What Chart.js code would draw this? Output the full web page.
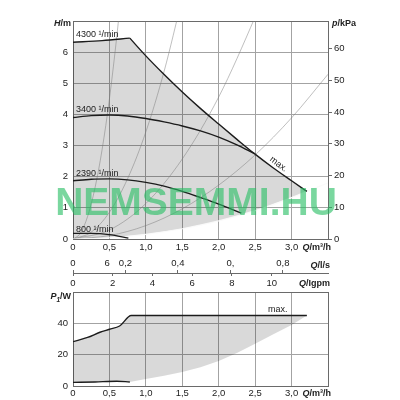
<!DOCTYPE html>
<html><head><meta charset="utf-8">
<script src="https://cdn.jsdelivr.net/npm/chart.js@4.4.1/dist/chart.umd.min.js"></script>
<style>
html,body{margin:0;padding:0;background:#fff;}
#wrap{position:relative;width:400px;height:400px;background:#fff;}
canvas{position:absolute;left:0;top:0;}
</style></head><body>
<div id="wrap"><canvas id="top" width="400" height="400"></canvas><canvas id="bot" width="400" height="400"></canvas></div>
<script>
// ---------------- data ----------------
const qTickValues = [0, 0.5, 1, 1.5, 2, 2.5, 3, 3.5];
const qTickLabels = ['0', '0,5', '1,0', '1,5', '2,0', '2,5', '3,0', ''];
const hTickValues = [0, 1, 2, 3, 4, 5, 6, 7];
const hTickLabels = ['0', '1', '2', '3', '4', '5', '6', ''];
const pTickValues = [0, 10, 20, 30, 40, 50, 60];
const pTickLabels = ['0', '10', '20', '30', '40', '50', '60'];
const powerTickValues = [0, 20, 40, 60];
const powerTickLabels = ['0', '20', '40', ''];
const lsTickValues = [0, 0.13, 0.2, 0.4, 0.6, 0.8];
const lsTickLabels = ['0', '6', '0,2', '0,4', '0,', '0,8'];
const gpmTickValues = [0, 2, 4, 6, 8, 10];
const gpmTickLabels = ['0', '2', '4', '6', '8', '10'];

// head curves (Q m3/h, H m)
const q4300 = [0, 0.4, 0.78];
const h4300 = [6.32, 6.37, 6.45];
const qMax = [0.78, 1.0, 1.23, 1.5, 1.74, 2.0, 2.25, 2.49, 2.75, 3.0, 3.21];
const hMax = [6.45, 5.88, 5.33, 4.72, 4.21, 3.69, 3.2, 2.74, 2.28, 1.87, 1.53];
const q3400 = [0, 0.25, 0.5, 0.75, 1.0, 1.25, 1.5, 1.75, 2.0, 2.25, 2.49];
const h3400 = [3.9, 3.96, 3.98, 3.95, 3.87, 3.76, 3.63, 3.47, 3.27, 3.02, 2.74];
const q2390 = [0, 0.25, 0.5, 0.75, 1.0, 1.25, 1.5, 1.75, 2.0, 2.31];
const h2390 = [1.87, 1.92, 1.93, 1.9, 1.82, 1.7, 1.53, 1.33, 1.12, 0.83];
const q800 = [0, 0.25, 0.5, 0.76];
const h800 = [0.18, 0.18, 0.14, 0.03];
// lower boundary of operating range (light line)
const qLow = [0, 0.5, 1.0, 1.5, 2.0, 2.5, 3.0, 3.21, 3.5];
const hLow = [0, 0.04, 0.15, 0.33, 0.58, 0.91, 1.33, 1.53, 1.8];
// thin system curves
const qSys1 = [0, 0.1, 0.2, 0.3, 0.4, 0.5, 0.6, 0.64];
const hSys1 = [0, 0.18, 0.72, 1.62, 2.88, 4.5, 6.48, 7.37];
const qSys2 = [0, 0.25, 0.5, 0.75, 1.0, 1.25, 1.5];
const hSys2 = [0, 0.22, 0.86, 1.94, 3.44, 5.38, 7.74];
const qSys3 = [0, 0.5, 1.0, 1.5, 2.0, 2.5, 2.6];
const hSys3 = [0, 0.29, 1.14, 2.57, 4.56, 7.13, 7.7];
const qSys4 = [0, 0.5, 1.0, 1.5, 2.0, 2.5, 3.0, 3.5];
const hSys4 = [0, 0.11, 0.43, 0.97, 1.73, 2.7, 3.89, 5.29];

// power curves (Q m3/h, P1 W)
const qPmax = [0, 0.2, 0.37, 0.5, 0.64, 0.8, 3.21];
const pPmax = [28.3, 31, 34.3, 36.2, 38.3, 45, 45];
const qPmin = [0, 0.3, 0.6, 0.78];
const pPmin = [2.3, 2.6, 3.0, 2.6];
const qPlow = [0.78, 1.0, 1.25, 1.5, 1.75, 2.0, 2.25, 2.5, 2.75, 3.0, 3.21];
const pPlow = [2.6, 4.5, 6.5, 9, 12, 16, 21, 27, 33, 39, 45];

const curveLabelTexts = ['4300 \u00B9/min', '3400 \u00B9/min', '2390 \u00B9/min', '800 \u00B9/min'];
const curveLabelQ = [0.04, 0.04, 0.04, 0.04];
const curveLabelH = [6.56, 4.17, 2.1, 0.32];

// unit conversions
const Q_MAX = 3.5, H_MAX = 7, P_MAX = 60;
const KPA_PER_M = 9.81, M3H_PER_LS = 3.6, M3H_PER_IGPM = 0.272765;

// ---------------- style ----------------
const FONT = '"Liberation Sans", Arial, Helvetica, sans-serif';
const TXT = '#222';
const GRID = '#a3a3a3';
const EDGE = '#6a6a6a';
const CURVE = '#1c1c1c';
const FILL = 'rgba(0,0,0,0.15)';
const THIN = 'rgba(120,120,120,0.6)';
const R = '9px ' + FONT, B = 'bold 9px ' + FONT, BI = 'italic bold 9px ' + FONT;

function pts(xs, ys) { return xs.map((x, i) => ({x: x, y: ys[i]})); }
function setTicks(vals) { return s => { s.ticks = vals.map(v => ({value: v})); }; }
function labels(arr) { return (v, i) => (arr[i] !== undefined ? arr[i] : ''); }
function curve(data, color, width, order) {
  return {data: data, showLine: true, pointRadius: 0, borderColor: color, borderWidth: width,
          fill: false, cubicInterpolationMode: 'monotone', order: order};
}
function gridColor(c) { return (c.tick && c.tick.value >= c.scale.max - 1e-9) ? EDGE : GRID; }
function rich(ctx, parts, x, y, align) {
  let w = 0;
  parts.forEach(p => { ctx.font = p.f; p.w = ctx.measureText(p.t).width; w += p.w; });
  let cx = align === 'right' ? x - w : (align === 'center' ? x - w / 2 : x);
  ctx.textAlign = 'left';
  parts.forEach(p => { ctx.font = p.f; ctx.fillText(p.t, cx, y + (p.dy || 0)); cx += p.w; });
}
const tickFont = {family: FONT, size: 9.5};
const baseOpts = {
  responsive: false, animation: false, devicePixelRatio: 1, events: [],
  plugins: {legend: {display: false}, tooltip: {enabled: false}}
};

// ---------------- top chart (H) ----------------
const upperQ = q4300.concat(qMax.slice(1));
const upperH = h4300.concat(hMax.slice(1));
const lowEnd = qLow.indexOf(3.21);
const envTop = pts(upperQ, upperH).concat(
  pts(qLow.slice(0, lowEnd + 1), hLow.slice(0, lowEnd + 1)).reverse().slice(1));

const topText = {
  id: 'topText',
  afterDraw(chart) {
    const {ctx, chartArea: ca, scales: {x, y}} = chart;
    ctx.save();
    ctx.fillStyle = TXT; ctx.textBaseline = 'middle';
    rich(ctx, [{t: 'H', f: BI}, {t: '/m', f: B}], ca.left - 2, ca.top + 3, 'right');
    rich(ctx, [{t: 'p', f: BI}, {t: '/kPa', f: B}], ca.right + 4, ca.top + 3, 'left');
    rich(ctx, [{t: 'Q', f: BI}, {t: '/m\u00B3/h', f: B}], x.getPixelForValue(3) + 11, ca.bottom + 9, 'left');
    rich(ctx, [{t: 'Q', f: BI}, {t: '/Igpm', f: B}], ca.right + 2, ca.bottom + 45, 'right');
    ctx.font = R; ctx.textAlign = 'left';
    curveLabelTexts.forEach((t, i) => {
      ctx.fillText(t, x.getPixelForValue(curveLabelQ[i]), y.getPixelForValue(curveLabelH[i]));
    });
    ctx.save();
    ctx.translate(x.getPixelForValue(2.82), y.getPixelForValue(2.4));
    ctx.rotate(37 * Math.PI / 180);
    ctx.textAlign = 'center';
    ctx.fillText('max.', 0, 0);
    ctx.restore();
    // watermark
    ctx.font = 'bold 39px ' + FONT;
    ctx.textAlign = 'center'; ctx.textBaseline = 'alphabetic';
    ctx.fillStyle = 'rgba(40,190,100,0.62)';
    ctx.fillText('NEMSEMMI.HU', 196, 215);
    ctx.restore();
  }
};

new Chart(document.getElementById('top'), {
  type: 'scatter',
  data: {datasets: [
    curve(pts(q4300, h4300), CURVE, 1.4, 1),
    curve(pts(qMax, hMax), CURVE, 1.4, 1),
    curve(pts(q3400, h3400), CURVE, 1.4, 1),
    curve(pts(q2390, h2390), CURVE, 1.4, 1),
    curve(pts(q800, h800), CURVE, 1.4, 1),
    curve(pts(qLow, hLow), 'rgba(250,250,250,0.95)', 1.2, 2),
    curve(pts(qSys1, hSys1), THIN, 0.8, 3),
    curve(pts(qSys2, hSys2), THIN, 0.8, 3),
    curve(pts(qSys3, hSys3), THIN, 0.8, 3),
    curve(pts(qSys4, hSys4), THIN, 0.8, 3),
    {data: envTop, showLine: true, pointRadius: 0, borderWidth: 0, borderColor: 'rgba(0,0,0,0)',
     backgroundColor: FILL, fill: 'shape', order: 10}
  ]},
  options: Object.assign({}, baseOpts, {
    layout: {padding: {top: 21, left: 0, right: 0, bottom: 0}},
    scales: {
      x: {type: 'linear', position: 'bottom', weight: 0, min: 0, max: Q_MAX,
          afterBuildTicks: setTicks(qTickValues),
          ticks: {callback: labels(qTickLabels), padding: 3, color: TXT, font: tickFont, maxRotation: 0, autoSkip: false},
          grid: {color: gridColor, drawTicks: false, lineWidth: 1},
          border: {color: EDGE},
          afterFit: s => { s.height = 34; }},
      gpm: {type: 'linear', position: 'bottom', weight: 1, min: 0, max: Q_MAX / M3H_PER_IGPM,
          afterBuildTicks: setTicks(gpmTickValues),
          ticks: {callback: labels(gpmTickLabels), padding: 2, color: TXT, font: tickFont, maxRotation: 0, autoSkip: false},
          grid: {drawOnChartArea: false, drawTicks: true, tickLength: 3, color: EDGE},
          border: {display: true, color: EDGE},
          afterFit: s => { s.height = 127; }},
      y: {type: 'linear', position: 'left', min: 0, max: H_MAX,
          afterBuildTicks: setTicks(hTickValues),
          ticks: {callback: labels(hTickLabels), padding: 5, color: TXT, font: tickFont, autoSkip: false},
          grid: {color: gridColor, drawTicks: false, lineWidth: 1},
          border: {color: EDGE},
          afterFit: s => { s.width = 73; }},
      y2: {type: 'linear', position: 'right', min: 0, max: H_MAX * KPA_PER_M,
          afterBuildTicks: setTicks(pTickValues),
          ticks: {callback: labels(pTickLabels), padding: 2, color: TXT, font: tickFont, autoSkip: false},
          grid: {drawOnChartArea: false, drawTicks: true, tickLength: 4, color: EDGE},
          border: {display: true, color: EDGE},
          afterFit: s => { s.width = 72; }}
    }
  }),
  plugins: [topText]
});

// ---------------- bottom chart (P1) ----------------
const envBot = pts(qPmax, pPmax)
  .concat(pts(qPlow, pPlow).reverse().slice(1))
  .concat(pts(qPmin, pPmin).reverse().slice(1));

const botText = {
  id: 'botText',
  afterDraw(chart) {
    const {ctx, chartArea: ca, scales: {x, y}} = chart;
    ctx.save();
    ctx.fillStyle = TXT; ctx.textBaseline = 'middle';
    rich(ctx, [{t: 'Q', f: BI}, {t: '/l/s', f: B}], ca.right + 2, ca.top - 26, 'right');
    rich(ctx, [{t: 'P', f: BI}, {t: '1', f: 'italic bold 6.5px ' + FONT, dy: 3}, {t: '/W', f: B}], ca.left - 2, ca.top + 5, 'right');
    rich(ctx, [{t: 'Q', f: BI}, {t: '/m\u00B3/h', f: B}], x.getPixelForValue(3) + 11, ca.bottom + 8, 'left');
    ctx.font = R; ctx.textAlign = 'center';
    ctx.fillText('max.', x.getPixelForValue(2.81), y.getPixelForValue(49));
    ctx.restore();
  }
};

new Chart(document.getElementById('bot'), {
  type: 'scatter',
  data: {datasets: [
    curve(pts(qPmax, pPmax), CURVE, 1.4, 1),
    curve(pts(qPmin, pPmin), CURVE, 1.4, 1),
    {data: envBot, showLine: true, pointRadius: 0, borderWidth: 0, borderColor: 'rgba(0,0,0,0)',
     backgroundColor: FILL, fill: 'shape', order: 10}
  ]},
  options: Object.assign({}, baseOpts, {
    layout: {padding: {top: 258, left: 0, right: 72, bottom: 0}},
    scales: {
      x: {type: 'linear', position: 'bottom', min: 0, max: Q_MAX,
          afterBuildTicks: setTicks(qTickValues),
          ticks: {callback: labels(qTickLabels), padding: 2, color: TXT, font: tickFont, maxRotation: 0, autoSkip: false},
          grid: {color: gridColor, drawTicks: false, lineWidth: 1},
          border: {color: EDGE},
          afterFit: s => { s.height = 14; }},
      ls: {type: 'linear', position: 'top', weight: 2, min: 0, max: Q_MAX / M3H_PER_LS,
          afterBuildTicks: setTicks(lsTickValues),
          ticks: {callback: labels(lsTickLabels), padding: 1, color: TXT, font: tickFont, maxRotation: 0, autoSkip: false},
          grid: {drawOnChartArea: false, drawTicks: true, tickLength: 3, color: EDGE,
                 tickColor: c => (c.tick && c.tick.value === 0.13) ? 'rgba(0,0,0,0)' : EDGE},
          border: {display: true, color: EDGE},
          afterFit: s => { s.height = 15; }},
      sp: {type: 'linear', position: 'top', weight: 1, min: 0, max: Q_MAX,
          ticks: {display: false}, grid: {display: false}, border: {display: false},
          afterFit: s => { s.height = 19; }},
      y: {type: 'linear', position: 'left', min: 0, max: P_MAX,
          afterBuildTicks: setTicks(powerTickValues),
          ticks: {callback: labels(powerTickLabels), padding: 5, color: TXT, font: tickFont, autoSkip: false},
          grid: {color: gridColor, drawTicks: false, lineWidth: 1},
          border: {color: EDGE},
          afterFit: s => { s.width = 73; }}
    }
  }),
  plugins: [botText]
});
</script>
</body></html>
